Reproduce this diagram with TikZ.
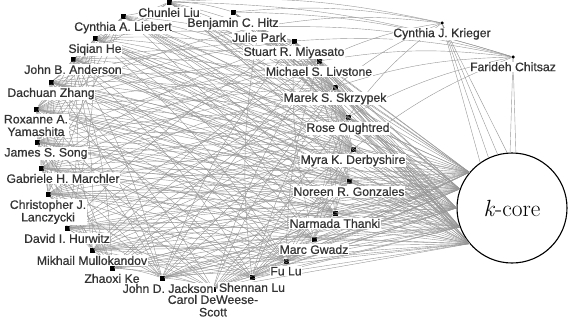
\documentclass[tikz,border=0pt]{standalone}
\usepackage{fontspec}
\newfontfamily\lblfont[FakeBold=0.6]{Liberation Sans}
\usetikzlibrary{positioning}
\definecolor{egray}{RGB}{150,150,150}

\begin{document}
\begin{tikzpicture}[x=1bp, y=-1bp,
  pt/.style={fill=black, inner sep=0pt, minimum size=5bp},
  smalldot/.style={circle, fill=black, inner sep=0pt, minimum size=3.5bp},
  lbl/.style={font=\lblfont\fontsize{12.3}{12.6}\selectfont, text=black!80,
              fill=white, inner sep=0.6pt, align=center},
  edge/.style={draw=egray, line width=0.4bp},
  core/.style={circle, draw, line width=1.1bp, minimum size=110bp, inner sep=0pt,
               font=\fontsize{23.5}{23.5}\selectfont}
]
\useasboundingbox (0,0) rectangle (569,322);

\node[core] (kcore) at (512,208) {\textit{k}-core};

% authors on the arc
\node[pt] (liu)       at (169,2)   {};
\node[pt] (liebert)   at (123,16)  {};
\node[pt] (he)        at (95,38)   {};
\node[pt] (anderson)  at (73,59)   {};
\node[pt] (zhang)     at (51,82)   {};
\node[pt] (yamashita) at (36,109)  {};
\node[pt] (song)      at (37,142)  {};
\node[pt] (marchler)  at (41,168)  {};
\node[pt] (lanczycki) at (48,194)  {};
\node[pt] (hurwitz)   at (67,228)  {};
\node[pt] (mullok)    at (92,250)  {};
\node[pt] (ke)        at (112,268) {};
\node[pt] (jackson)   at (162,278) {};
\node[pt] (deweese)   at (213,289) {};
\node[pt] (shennan)   at (252,277) {};
\node[pt] (fulu)      at (286,261) {};
\node[pt] (gwadz)     at (314,239) {};
\node[pt] (thanki)    at (335,213) {};
\node[pt] (gonzales)  at (349,181) {};
\node[pt] (derby)     at (353,149) {};
\node[pt] (oughtred)  at (348,117) {};
\node[pt] (skrzypek)  at (335,87)  {};
\node[pt] (livstone)  at (319,61)  {};
\node[pt] (miyasato)  at (294,41)  {};
\node[pt] (park)      at (259,27)  {};
\node[pt] (hitz)      at (233,12)  {};
% outliers
\node[smalldot] (krieger) at (442,23) {};
\node[smalldot] (chitsaz) at (513,57) {};

% co-author links
\foreach \a/\bs in {
  liu/{liebert,he,anderson,oughtred,derby,skrzypek,livstone,hitz,krieger,chitsaz,gonzales},
  liebert/{he,anderson,zhang,yamashita,song,marchler,oughtred,derby,gonzales,thanki,skrzypek,livstone,gwadz},
  he/{anderson,zhang,yamashita,song,marchler,lanczycki,hurwitz,fulu,gwadz,thanki,gonzales,derby,oughtred,skrzypek,livstone,miyasato},
  anderson/{zhang,yamashita,song,lanczycki,hurwitz,mullok,ke,jackson,shennan,fulu,thanki,gonzales,derby,oughtred,skrzypek,livstone},
  zhang/{yamashita,song,marchler,lanczycki,mullok,jackson,deweese,fulu,gwadz,thanki,gonzales,derby,oughtred,skrzypek,miyasato},
  yamashita/{song,marchler,lanczycki,hurwitz,ke,jackson,shennan,fulu,gwadz,thanki,gonzales,derby,oughtred,skrzypek,livstone,miyasato,park},
  song/{marchler,lanczycki,hurwitz,mullok,ke,deweese,shennan,gwadz,thanki,gonzales,derby,oughtred,skrzypek,livstone},
  marchler/{lanczycki,hurwitz,mullok,jackson,deweese,fulu,gwadz,thanki,gonzales,derby,oughtred,skrzypek,livstone,miyasato},
  lanczycki/{hurwitz,mullok,ke,jackson,shennan,fulu,gwadz,thanki,gonzales,derby,oughtred,skrzypek,livstone},
  hurwitz/{mullok,ke,jackson,deweese,shennan,fulu,gwadz,thanki,gonzales,derby,oughtred,skrzypek,miyasato},
  mullok/{ke,jackson,deweese,shennan,fulu,thanki,gonzales,derby,oughtred,skrzypek,livstone},
  ke/{jackson,deweese,shennan,fulu,gwadz,gonzales,derby,oughtred,skrzypek},
  jackson/{deweese,shennan,fulu,gwadz,thanki,derby,oughtred,livstone,miyasato},
  deweese/{shennan,fulu,gwadz,thanki,gonzales,derby,skrzypek,livstone},
  shennan/{fulu,gwadz,thanki,gonzales,oughtred,skrzypek,park},
  fulu/{gwadz,thanki,gonzales,derby,livstone},
  gwadz/{thanki,gonzales,derby,oughtred,miyasato},
  thanki/{gonzales,derby,oughtred,skrzypek},
  gonzales/{derby,oughtred,skrzypek,livstone},
  derby/{oughtred,skrzypek,livstone,miyasato,chitsaz},
  oughtred/{skrzypek,livstone,miyasato,park,krieger,chitsaz},
  skrzypek/{livstone,miyasato,park,hitz,krieger,chitsaz},
  livstone/{miyasato,park,hitz,krieger,chitsaz},
  miyasato/{park,hitz,chitsaz},
  park/{hitz,krieger,chitsaz},
  hitz/{krieger,chitsaz}}
  \foreach \b in \bs
    \draw[edge] (\a) to[bend left=8] (\b);

% links into the k-core
\foreach \a in {liu,liebert,he,anderson,zhang,yamashita,song,marchler,lanczycki,
                hurwitz,mullok,ke,jackson,deweese,shennan,fulu,gwadz,thanki,
                gonzales,derby,oughtred,skrzypek,livstone,miyasato,park,hitz}
  \foreach \t in {140,160,180,200,220}
    \draw[edge] (\a) -- (kcore.\t);
\foreach \t in {95,105,115,125}
  \draw[edge] (krieger) -- (kcore.\t);
\draw[edge] (chitsaz) -- (kcore.86);
\draw[edge] (chitsaz) -- (kcore.92);

% names
\node[lbl, below=2.5bp of liu]       (liu-t)       {Chunlei Liu};
\node[lbl, below=2.5bp of liebert]   (liebert-t)   {Cynthia A. Liebert};
\node[lbl, below=2.5bp of he]        (he-t)        {Siqian He};
\node[lbl, below=2.5bp of anderson]  (anderson-t)  {John B. Anderson};
\node[lbl, below=2.5bp of zhang]     (zhang-t)     {Dachuan Zhang};
\node[lbl, below=2.5bp of yamashita] (yamashita-t) {Roxanne A.\\Yamashita};
\node[lbl, below=2.5bp of song, xshift=9bp]      (song-t)     {James S. Song};
\node[lbl, below=2.5bp of marchler, xshift=22bp] (marchler-t) {Gabriele H. Marchler};
\node[lbl, below=2.5bp of lanczycki] (lanczycki-t) {Christopher J.\\Lanczycki};
\node[lbl, below=2.5bp of hurwitz]   (hurwitz-t)   {David I. Hurwitz};
\node[lbl, below=2.5bp of mullok]    (mullok-t)    {Mikhail Mullokandov};
\node[lbl, below=2.5bp of ke]        (ke-t)        {Zhaoxi Ke};
\node[lbl, below=2.5bp of jackson, xshift=6bp]   (jackson-t)  {John D. Jackson};
\node[lbl, below=2.5bp of deweese]   (deweese-t)   {Carol DeWeese-\\Scott};
\node[lbl, below=2.5bp of shennan]   (shennan-t)   {Shennan Lu};
\node[lbl, below=2.5bp of fulu]      (fulu-t)      {Fu Lu};
\node[lbl, below=2.5bp of gwadz]     (gwadz-t)     {Marc Gwadz};
\node[lbl, below=2.5bp of thanki]    (thanki-t)    {Narmada Thanki};
\node[lbl, below=2.5bp of gonzales]  (gonzales-t)  {Noreen R. Gonzales};
\node[lbl, below=2.5bp of derby]     (derby-t)     {Myra K. Derbyshire};
\node[lbl, below=2.5bp of oughtred]  (oughtred-t)  {Rose Oughtred};
\node[lbl, below=2.5bp of skrzypek]  (skrzypek-t)  {Marek S. Skrzypek};
\node[lbl, below=2.5bp of livstone]  (livstone-t)  {Michael S. Livstone};
\node[lbl, below=2.5bp of miyasato]  (miyasato-t)  {Stuart R. Miyasato};
\node[lbl, below=2.5bp of park]      (park-t)      {Julie Park};
\node[lbl, below=2.5bp of hitz]      (hitz-t)      {Benjamin C. Hitz};
\node[lbl, below=2.5bp of krieger]   (krieger-t)   {Cynthia J. Krieger};
\node[lbl, below=2.5bp of chitsaz]   (chitsaz-t)   {Farideh Chitsaz};
\end{tikzpicture}
\end{document}
